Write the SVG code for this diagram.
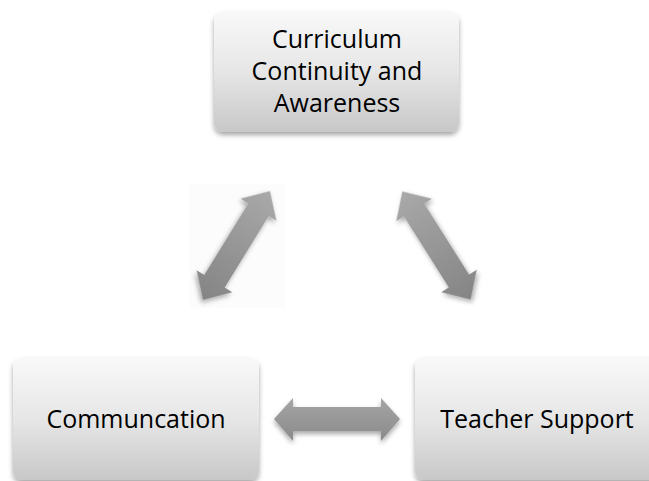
<svg xmlns="http://www.w3.org/2000/svg" width="649" height="481" viewBox="0 0 649 481">
  <defs>
    <linearGradient id="boxGrad" x1="0" y1="0" x2="0" y2="1">
      <stop offset="0" stop-color="#f9f9f9"/>
      <stop offset="0.5" stop-color="#e6e6e6"/>
      <stop offset="1" stop-color="#c8c8c8"/>
    </linearGradient>
    <linearGradient id="arrowGradV" x1="0" y1="0" x2="0" y2="1">
      <stop offset="0" stop-color="#a9a9a9"/>
      <stop offset="1" stop-color="#848484"/>
    </linearGradient>
    <linearGradient id="arrowGradH" x1="0" y1="0" x2="0" y2="1">
      <stop offset="0" stop-color="#a5a5a5"/>
      <stop offset="1" stop-color="#8a8a8a"/>
    </linearGradient>
    <filter id="shadow" x="-20%" y="-20%" width="140%" height="150%">
      <feDropShadow dx="0" dy="3" stdDeviation="2.5" flood-color="#000" flood-opacity="0.35"/>
    </filter>
    <path id="vArrow" d="M 0,-64 L 21,-42 L 12,-42 L 12,42 L 21,42 L 0,64 L -21,42 L -12,42 L -12,-42 L -21,-42 Z"/>
  </defs>
  <style>
    .box { fill: url(#boxGrad); filter: url(#shadow); }
    .label { font-family: "Open Sans", "Liberation Sans", Arial, sans-serif; font-size: 25px; fill: #000; text-anchor: middle; }
    .arrowV { fill: url(#arrowGradV); filter: url(#shadow); }
    .arrowH { fill: url(#arrowGradH); filter: url(#shadow); }
  </style>
  <rect width="649" height="481" fill="#ffffff"/>
  <rect x="190" y="184" width="96" height="124" fill="#fcfcfc"/>

  <g id="node-curriculum">
    <rect class="box" x="214" y="12" width="245" height="120" rx="9" ry="9"/>
    <text class="label" x="337" y="48">Curriculum</text>
    <text class="label" x="337" y="80">Continuity and</text>
    <text class="label" x="337" y="112">Awareness</text>
  </g>

  <g id="node-communication">
    <rect class="box" x="13" y="358" width="246" height="122" rx="9" ry="9"/>
    <text class="label" x="136" y="428">Communcation</text>
  </g>

  <g id="node-teacher-support">
    <rect class="box" x="415" y="358" width="246" height="122" rx="9" ry="9"/>
    <text class="label" x="537" y="428">Teacher Support</text>
  </g>

  <g id="connectors">
    <use href="#vArrow" class="arrowV" transform="translate(236.5,245.5) rotate(31.6)"/>
    <use href="#vArrow" class="arrowV" transform="translate(436.5,245.5) rotate(-32.3)"/>
    <path class="arrowH" d="M 274,419 L 293,398 L 293,407 L 381,407 L 381,398 L 400,419 L 381,441 L 381,431 L 293,431 L 293,441 Z"/>
  </g>
</svg>
